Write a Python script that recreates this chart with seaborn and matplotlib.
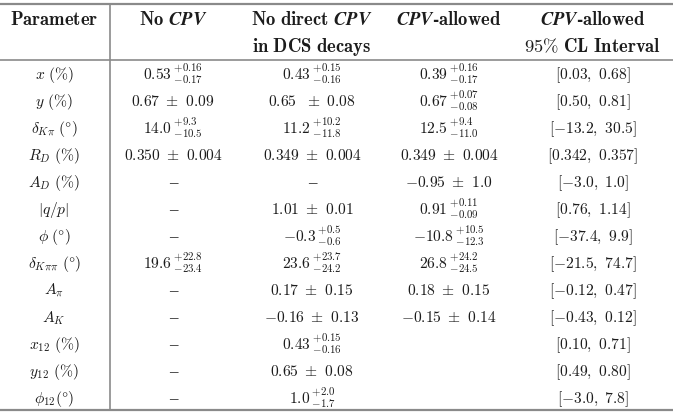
import matplotlib
matplotlib.use("Agg")
import matplotlib.pyplot as plt
import seaborn as sns

sns.set_theme(style="white")
plt.rcParams['mathtext.fontset'] = 'cm'
plt.rcParams['font.family'] = ['DejaVu Serif']

# table content (mathtext strings), None = en dash, "" = empty cell
parameters = [r"x\ (\%)", r"y\ (\%)", r"\delta_{K\pi}\ (\degree)", r"R_D\ (\%)",
              r"A_D\ (\%)", r"|q/p|", r"\phi\ (\degree)", r"\delta_{K\pi\pi}\ (\degree)",
              r"A_\pi", r"A_K", r"x_{12}\ (\%)", r"y_{12}\ (\%)", r"\phi_{12}(\degree)"]
no_cpv = [r"0.53\,{}^{+0.16}_{-0.17}", r"0.67\ \pm\ 0.09", r"14.0\,{}^{+9.3}_{-10.5}",
          r"0.350\ \pm\ 0.004", None, None, None, r"19.6\,{}^{+22.8}_{-23.4}",
          None, None, None, None, None]
no_direct_cpv = [r"0.43\,{}^{+0.15}_{-0.16}", r"0.65\ \ \pm\ 0.08", r"11.2\,{}^{+10.2}_{-11.8}",
                 r"0.349\ \pm\ 0.004", None, r"1.01\ \pm\ 0.01", r"-0.3\,{}^{+0.5}_{-0.6}",
                 r"23.6\,{}^{+23.7}_{-24.2}", r"0.17\ \pm\ 0.15", r"-0.16\ \pm\ 0.13",
                 r"0.43\,{}^{+0.15}_{-0.16}", r"0.65\ \pm\ 0.08", r"1.0\,{}^{+2.0}_{-1.7}"]
cpv_allowed = [r"0.39\,{}^{+0.16}_{-0.17}", r"0.67\,{}^{+0.07}_{-0.08}", r"12.5\,{}^{+9.4}_{-11.0}",
               r"0.349\ \pm\ 0.004", r"-0.95\ \pm\ 1.0", r"0.91\,{}^{+0.11}_{-0.09}",
               r"-10.8\,{}^{+10.5}_{-12.3}", r"26.8\,{}^{+24.2}_{-24.5}",
               r"0.18\ \pm\ 0.15", r"-0.15\ \pm\ 0.14", "", "", ""]
cl_interval = [r"[0.03,\ 0.68]", r"[0.50,\ 0.81]", r"[-13.2,\ 30.5]", r"[0.342,\ 0.357]",
               r"[-3.0,\ 1.0]", r"[0.76,\ 1.14]", r"[-37.4,\ 9.9]", r"[-21.5,\ 74.7]",
               r"[-0.12,\ 0.47]", r"[-0.43,\ 0.12]", r"[0.10,\ 0.71]", r"[0.49,\ 0.80]",
               r"[-3.0,\ 7.8]"]
header_top = [r"\mathbf{Parameter}", r"\mathbf{No}\ \mathbfit{CPV}",
              r"\mathbf{No\ direct}\ \mathbfit{CPV}", "\\mathbfit{CPV}\\mathbf{\u2010allowed}",
              "\\mathbfit{CPV}\\mathbf{\u2010allowed}"]
header_bottom = ["", "", r"\mathbf{in\ DCS\ decays}", "", r"\mathbf{95\%\ CL\ Interval}"]

columns = [parameters, no_cpv, no_direct_cpv, cpv_allowed, cl_interval]

# layout (pixel-like x, row units y)
col_x = [54, 173, 312, 449, 593]
sep_x = 110
fs = 11.2
fs_head = 13.4
ink = "#1c1c1c"
rule = "#8a8a8a"

fig = plt.figure(figsize=(6.73, 4.16), dpi=100)
ax = fig.add_axes([0, 0, 1, 1])
ax.set_xlim(0, 673)
ax.set_ylim(12.67, -2.74)
ax.axis("off")

def cell(x, r, s, size=fs):
    if s is None:
        ax.text(x, r + 0.2, "\u2013", ha="center", va="baseline", fontsize=size + 1,
                color=ink, family="Liberation Serif")
    elif s:
        ax.text(x, r + 0.2, "$" + s + "$", ha="center", va="baseline",
                fontsize=size, color=ink)

for j, col in enumerate(columns):
    cell(col_x[j], -2, header_top[j], fs_head)
    cell(col_x[j], -1, header_bottom[j], fs_head)
    for i, s in enumerate(col):
        cell(col_x[j], i, s)

n = len(parameters)
ax.axhline(-2.59, color=rule, lw=1.6)
ax.axhline(-0.52, color=rule, lw=1.2)
ax.axhline(n - 0.56, color=rule, lw=1.6)
ax.vlines(sep_x, -2.59, n - 0.56, color=rule, lw=1.2)

fig.savefig("out.png", dpi=100)
